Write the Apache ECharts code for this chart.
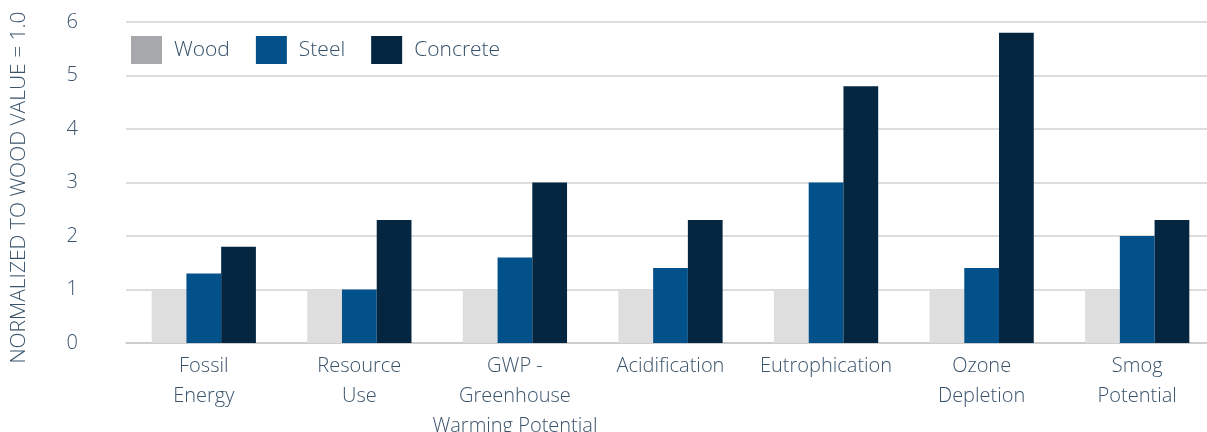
<!DOCTYPE html>
<html>
<head>
<meta charset="utf-8">
<script src="https://cdn.jsdelivr.net/npm/echarts@6/dist/echarts.min.js"></script>
<style>html,body{margin:0;padding:0;background:#fff}#c{width:1207px;height:432px}</style>
</head>
<body>
<div id="c"></div>
<script>
const categories = ["Fossil\nEnergy", "Resource\nUse", "GWP -\nGreenhouse\nWarming Potential", "Acidification", "Eutrophication", "Ozone\nDepletion", "Smog\nPotential"];
const wood = [1, 1, 1, 1, 1, 1, 1];
const steel = [1.3, 1.0, 1.6, 1.4, 3.0, 1.4, 2.0];
const concrete = [1.8, 2.3, 3.0, 2.3, 4.8, 5.8, 2.3];
const yTicks = [0, 1, 2, 3, 4, 5, 6];

const chart = echarts.init(document.getElementById('c'), null, {renderer: 'canvas'});
const font = '"Open Sans", sans-serif';
chart.setOption({
  animation: false,
  textStyle: {fontFamily: font},
  grid: {left: 126, right: -8, top: 22, bottom: 89, containLabel: false, outerBoundsMode: 'none'},
  legend: {
    left: 126, top: 31, icon: 'rect',
    itemWidth: 31, itemHeight: 28, itemGap: 26,
    textStyle: {fontSize: 21, color: '#34506a', fontFamily: font, fontWeight: 300, padding: [0, 0, 0, 7]},
    data: [
      {name: 'Wood', itemStyle: {color: '#a7a8ab'}},
      {name: 'Steel'},
      {name: 'Concrete'}
    ]
  },
  xAxis: {
    type: 'category',
    data: categories,
    axisLine: {lineStyle: {color: '#c8c8c8', width: 1.5}},
    axisTick: {show: false},
    axisLabel: {fontSize: 20, color: '#3a536b', fontFamily: font, fontWeight: 300, lineHeight: 30, margin: 8, interval: 0}
  },
  yAxis: {
    type: 'value',
    min: 0, max: 6, interval: 1,
    name: 'NORMALIZED TO WOOD VALUE = 1.0',
    nameLocation: 'middle',
    nameGap: 96,
    nameRotate: 90,
    nameTextStyle: {fontSize: 21, color: '#3a536b', fontFamily: font, fontWeight: 300, padding: [0, 10, 0, 0]},
    axisLine: {show: false},
    axisTick: {show: false},
    axisLabel: {fontSize: 20, color: '#3a536b', fontFamily: font, fontWeight: 300, margin: 48,
      formatter: v => yTicks.includes(v) ? String(v) : ''},
    splitLine: {lineStyle: {color: '#d2d2d2', width: 1.5}}
  },
  series: [
    {name: 'Wood', type: 'bar', data: wood, itemStyle: {color: '#dedede'}, barGap: '0%', barCategoryGap: '33%'},
    {name: 'Steel', type: 'bar', data: steel, itemStyle: {color: '#03518a'}},
    {name: 'Concrete', type: 'bar', data: concrete, itemStyle: {color: '#042640'}}
  ]
});
</script>
</body>
</html>
